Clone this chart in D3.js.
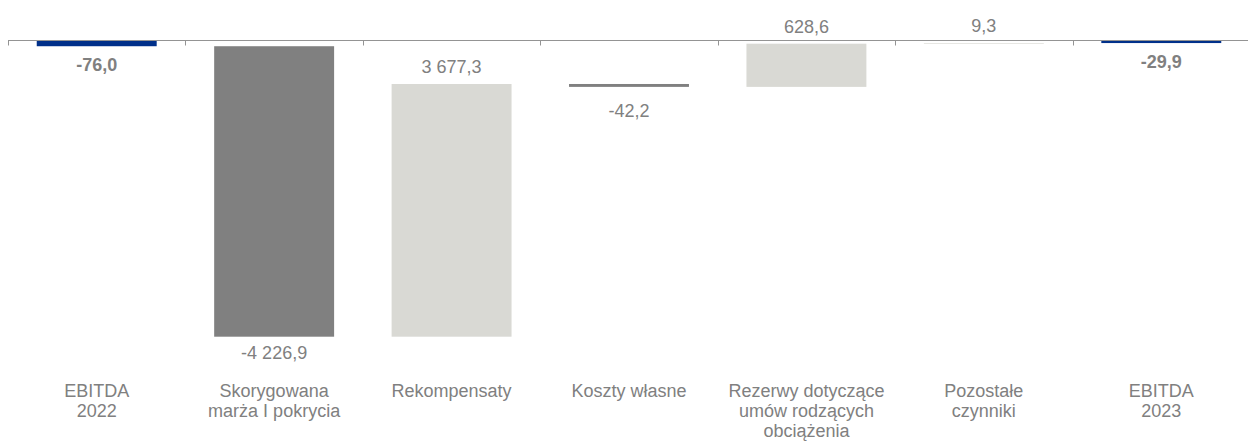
<!DOCTYPE html>
<html>
<head>
<meta charset="utf-8">
<script src="https://cdn.jsdelivr.net/npm/d3@7"></script>
<style>
  html, body { margin: 0; padding: 0; background: #fff; }
  svg { display: block; }
  text { font-family: "Liberation Sans", Arial, sans-serif; }
</style>
</head>
<body>
<svg id="chart" width="1248" height="441"></svg>
<script>
const categories = [
  ["EBITDA", "2022"],
  ["Skorygowana", "marża I pokrycia"],
  ["Rekompensaty"],
  ["Koszty własne"],
  ["Rezerwy dotyczące", "umów rodzących", "obciążenia"],
  ["Pozostałe", "czynniki"],
  ["EBITDA", "2023"]
];
const values = [-76.0, -4226.9, 3677.3, -42.2, 628.6, 9.3, -29.9];
const kinds = ["total", "delta", "delta", "delta", "delta", "delta", "total"];
const valueLabels = ["-76,0", "-4 226,9", "3 677,3", "-42,2", "628,6", "9,3", "-29,9"];

const W = 1248, H = 441;
const svg = d3.select("#chart");

// Build waterfall segments
let run = 0;
const segs = values.map((v, i) => {
  let a, b;
  if (kinds[i] === "total") { a = 0; b = v; run = v; }
  else { a = run; b = run + v; run = b; }
  return { i, v, a, b, kind: kinds[i], label: valueLabels[i], cat: categories[i] };
});

const minVal = d3.min(segs, d => Math.min(d.a, d.b));

const x = d3.scaleBand()
  .domain(d3.range(categories.length))
  .range([8, 1250])
  .paddingInner(0.324)
  .paddingOuter(0.162);

const y = d3.scaleLinear()
  .domain([0, minVal])
  .range([41, 336.7]);

const step = x.step();
const x0 = x.range()[0];

function fillFor(d) {
  if (d.kind === "total") return "#00308a";
  if (d.v >= 0) return "#d9d9d4";
  return "#808080";
}

// Bars
svg.append("g").selectAll("rect")
  .data(segs)
  .join("rect")
  .attr("x", d => x(d.i))
  .attr("width", x.bandwidth())
  .attr("y", d => y(Math.max(d.a, d.b)))
  .attr("height", d => Math.abs(y(d.a) - y(d.b)))
  .attr("fill", fillFor);

// Axis line and ticks
const axisY = y(0) - 0.5;
const ax = svg.append("g");
ax.append("line")
  .attr("x1", x0).attr("x2", W)
  .attr("y1", axisY).attr("y2", axisY)
  .attr("stroke", "#949494").attr("stroke-width", 1);
ax.selectAll("line.tick")
  .data(d3.range(categories.length))
  .join("line")
  .attr("class", "tick")
  .attr("x1", i => Math.round(x0 + i * step) + 0.5)
  .attr("x2", i => Math.round(x0 + i * step) + 0.5)
  .attr("y1", axisY).attr("y2", axisY + 5)
  .attr("stroke", "#949494").attr("stroke-width", 1);

// Value labels
svg.append("g").selectAll("text")
  .data(segs)
  .join("text")
  .attr("x", d => x(d.i) + x.bandwidth() / 2)
  .attr("y", d => {
    const top = y(Math.max(d.a, d.b));
    const bot = y(Math.min(d.a, d.b));
    if (d.v >= 0) return top - 11;
    if (d.kind === "total") return bot + 24.5;
    return Math.max(bot + 22.5, top + 33);
  })
  .attr("text-anchor", "middle")
  .attr("font-size", "18px")
  .attr("font-weight", d => d.kind === "total" ? "bold" : "normal")
  .attr("fill", "#808080")
  .text(d => d.label);

// Category labels
const cg = svg.append("g");
segs.forEach(d => {
  const t = cg.append("text")
    .attr("x", x(d.i) + x.bandwidth() / 2)
    .attr("y", 397)
    .attr("text-anchor", "middle")
    .attr("font-size", "18px")
    .attr("fill", "#808080");
  d.cat.forEach((line, k) => {
    t.append("tspan")
      .attr("x", x(d.i) + x.bandwidth() / 2)
      .attr("dy", k === 0 ? 0 : 20)
      .text(line);
  });
});
</script>
</body>
</html>
